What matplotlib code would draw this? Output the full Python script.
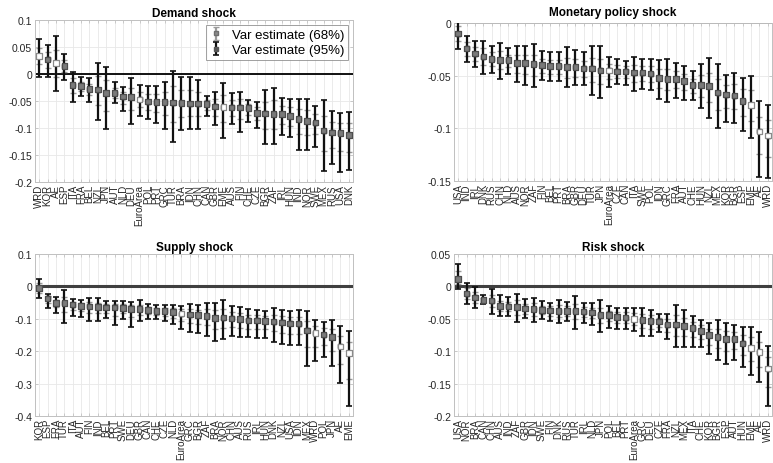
import matplotlib
matplotlib.use("Agg")
import matplotlib.pyplot as plt
import numpy as np

plt.rcParams['font.family'] = ['Liberation Sans', 'DejaVu Sans']
plt.rcParams['axes.unicode_minus'] = False

# aggregates get a hollow marker
aggregates = ['WRD', 'AE', 'EME', 'EuroArea']

# ---- Demand shock ----
demand_names = ['WRD', 'KOR', 'AE', 'ESP', 'ITA', 'FRA', 'BEL', 'NZL', 'JPN', 'AUT', 'NLD', 'DEU',
                'EuroArea', 'POL', 'PRT', 'GRC', 'TUR', 'BRA', 'IDN', 'CHN', 'CAN', 'GBR', 'EME',
                'AUS', 'FIN', 'CHE', 'CZE', 'BGR', 'ZAF', 'IRL', 'HUN', 'IND', 'NOR', 'SWE', 'MEX',
                'RUS', 'USA', 'DNK']
demand_mid = [0.033, 0.027, 0.020, 0.015, -0.020, -0.022, -0.028, -0.029, -0.035, -0.035, -0.042, -0.043,
              -0.047, -0.051, -0.052, -0.052, -0.053, -0.054, -0.055, -0.055, -0.056, -0.060, -0.061,
              -0.062, -0.062, -0.063, -0.072, -0.073, -0.074, -0.074, -0.078, -0.083, -0.087, -0.090,
              -0.105, -0.108, -0.109, -0.113]
demand_hi95 = [0.064, 0.054, 0.070, 0.037, 0.003, -0.006, -0.008, 0.021, 0.013, -0.014, -0.024, -0.007,
               -0.021, -0.023, -0.023, -0.014, 0.006, -0.005, -0.005, -0.012, -0.040, -0.033, -0.017,
               -0.035, -0.033, -0.048, -0.052, -0.029, -0.025, -0.045, -0.047, -0.046, -0.046, -0.059,
               -0.049, -0.069, -0.073, -0.070]
demand_lo95 = [-0.006, -0.006, -0.031, -0.012, -0.051, -0.041, -0.051, -0.086, -0.102, -0.054, -0.069, -0.092,
               -0.078, -0.083, -0.091, -0.101, -0.125, -0.104, -0.102, -0.101, -0.078, -0.094, -0.119,
               -0.093, -0.107, -0.088, -0.100, -0.130, -0.130, -0.113, -0.117, -0.140, -0.140, -0.136,
               -0.180, -0.167, -0.181, -0.178]
demand_hi68 = [0.048, 0.041, 0.045, 0.026, -0.008, -0.014, -0.018, -0.004, -0.011, -0.025, -0.033, -0.025,
               -0.034, -0.037, -0.037, -0.033, -0.023, -0.029, -0.030, -0.033, -0.048, -0.046, -0.039,
               -0.048, -0.047, -0.055, -0.062, -0.051, -0.049, -0.059, -0.062, -0.064, -0.066, -0.074,
               -0.077, -0.088, -0.091, -0.091]
demand_lo68 = [0.018, 0.011, -0.005, 0.004, -0.035, -0.031, -0.039, -0.057, -0.068, -0.044, -0.055, -0.067,
               -0.062, -0.067, -0.071, -0.076, -0.088, -0.079, -0.078, -0.078, -0.067, -0.077, -0.089,
               -0.077, -0.084, -0.075, -0.086, -0.101, -0.101, -0.093, -0.097, -0.111, -0.113, -0.112,
               -0.142, -0.137, -0.143, -0.144]

# ---- Monetary policy shock ----
money_names = ['USA', 'IND', 'IRL', 'DNK', 'RUS', 'CHN', 'NLD', 'AUS', 'NOR', 'ZAF', 'FIN', 'BEL', 'PRT',
               'BRA', 'GBR', 'DEU', 'TUR', 'JPN', 'EuroArea', 'CZE', 'CAN', 'ITA', 'SWE', 'POL', 'IDN',
               'GRC', 'FRA', 'AUT', 'CHE', 'HUN', 'NZL', 'MEX', 'KOR', 'BGR', 'ESP', 'EME', 'AE', 'WRD']
money_mid = [-0.010, -0.024, -0.029, -0.032, -0.034, -0.035, -0.035, -0.038, -0.038, -0.039, -0.040, -0.041,
             -0.041, -0.042, -0.042, -0.043, -0.043, -0.045, -0.045, -0.046, -0.046, -0.047, -0.047, -0.048,
             -0.052, -0.053, -0.053, -0.055, -0.059, -0.059, -0.060, -0.066, -0.068, -0.069, -0.074, -0.078,
             -0.103, -0.107]
money_hi95 = [0.003, -0.012, -0.017, -0.017, -0.022, -0.019, -0.024, -0.022, -0.022, -0.020, -0.027, -0.028,
              -0.028, -0.023, -0.026, -0.028, -0.022, -0.022, -0.032, -0.034, -0.036, -0.032, -0.034, -0.034,
              -0.035, -0.034, -0.038, -0.041, -0.046, -0.039, -0.033, -0.039, -0.049, -0.047, -0.052, -0.050,
              -0.074, -0.078]
money_lo95 = [-0.025, -0.037, -0.042, -0.048, -0.047, -0.053, -0.048, -0.056, -0.059, -0.061, -0.054, -0.055,
              -0.055, -0.061, -0.059, -0.059, -0.068, -0.071, -0.061, -0.058, -0.059, -0.065, -0.063, -0.064,
              -0.072, -0.075, -0.071, -0.073, -0.073, -0.081, -0.090, -0.100, -0.094, -0.095, -0.103, -0.109,
              -0.146, -0.147]
money_hi68 = [-0.003, -0.018, -0.023, -0.024, -0.028, -0.027, -0.030, -0.030, -0.030, -0.030, -0.034, -0.035,
              -0.035, -0.033, -0.034, -0.036, -0.033, -0.034, -0.039, -0.040, -0.041, -0.040, -0.041, -0.041,
              -0.044, -0.044, -0.046, -0.048, -0.053, -0.049, -0.047, -0.053, -0.059, -0.058, -0.063, -0.064,
              -0.089, -0.092]
money_lo68 = [-0.017, -0.031, -0.036, -0.040, -0.041, -0.044, -0.042, -0.047, -0.048, -0.050, -0.047, -0.048,
              -0.048, -0.052, -0.051, -0.051, -0.056, -0.058, -0.053, -0.052, -0.052, -0.056, -0.055, -0.056,
              -0.062, -0.064, -0.062, -0.064, -0.066, -0.070, -0.075, -0.083, -0.081, -0.082, -0.088, -0.093,
              -0.124, -0.127]

# ---- Supply shock ----
supply_names = ['KOR', 'ESP', 'FRA', 'TUR', 'ITA', 'AUT', 'FIN', 'IND', 'BEL', 'PRT', 'SWE', 'DEU', 'GBR',
                'CAN', 'CHE', 'CZE', 'NLD', 'EuroArea', 'GRC', 'BGR', 'ZAF', 'BRA', 'NOR', 'CHN', 'AUS',
                'RUS', 'IRL', 'HUN', 'DNK', 'NZL', 'USA', 'IDN', 'MEX', 'WRD', 'POL', 'JPN', 'AE', 'EME']
supply_mid = [-0.005, -0.037, -0.051, -0.051, -0.056, -0.060, -0.062, -0.064, -0.065, -0.065, -0.066, -0.069,
              -0.069, -0.072, -0.076, -0.076, -0.079, -0.084, -0.087, -0.089, -0.091, -0.097, -0.096, -0.099,
              -0.100, -0.105, -0.105, -0.107, -0.109, -0.111, -0.114, -0.115, -0.136, -0.144, -0.149, -0.157,
              -0.185, -0.205]
supply_hi95 = [0.023, -0.022, -0.034, -0.012, -0.039, -0.043, -0.037, -0.037, -0.045, -0.045, -0.044, -0.047,
               -0.043, -0.055, -0.058, -0.058, -0.058, -0.059, -0.054, -0.056, -0.052, -0.052, -0.042, -0.061,
               -0.064, -0.071, -0.073, -0.077, -0.066, -0.074, -0.077, -0.074, -0.077, -0.103, -0.110, -0.105,
               -0.123, -0.139]
supply_lo95 = [-0.037, -0.067, -0.081, -0.114, -0.091, -0.094, -0.106, -0.106, -0.099, -0.118, -0.101, -0.125,
               -0.107, -0.100, -0.100, -0.106, -0.115, -0.131, -0.142, -0.143, -0.152, -0.170, -0.163, -0.154,
               -0.157, -0.157, -0.159, -0.160, -0.171, -0.179, -0.180, -0.180, -0.246, -0.231, -0.218, -0.247,
               -0.299, -0.370]
supply_hi68 = [0.009, -0.029, -0.042, -0.032, -0.047, -0.051, -0.049, -0.050, -0.055, -0.055, -0.055, -0.058,
               -0.056, -0.063, -0.067, -0.067, -0.068, -0.071, -0.070, -0.072, -0.071, -0.074, -0.069, -0.080,
               -0.082, -0.088, -0.089, -0.092, -0.087, -0.092, -0.095, -0.094, -0.106, -0.123, -0.129, -0.131,
               -0.154, -0.172]
supply_lo68 = [-0.021, -0.050, -0.064, -0.080, -0.072, -0.075, -0.082, -0.083, -0.081, -0.090, -0.082, -0.095,
               -0.087, -0.085, -0.088, -0.090, -0.096, -0.106, -0.113, -0.115, -0.120, -0.132, -0.128, -0.125,
               -0.127, -0.130, -0.131, -0.133, -0.139, -0.144, -0.146, -0.147, -0.188, -0.186, -0.182, -0.200,
               -0.240, -0.285]

# ---- Risk shock ----
risk_names = ['USA', 'NOR', 'BRA', 'CAN', 'CHN', 'AUS', 'IND', 'ZAF', 'GBR', 'IDN', 'SWE', 'FIN', 'DNK',
              'RUS', 'TUR', 'IRL', 'NLD', 'JPN', 'POL', 'BEL', 'PRT', 'EuroArea', 'GRC', 'DEU', 'CZE', 'FRA',
              'NZL', 'MEX', 'ITA', 'CHE', 'KOR', 'BGR', 'ESP', 'AUT', 'HUN', 'EME', 'AE', 'WRD']
risk_mid = [0.011, -0.011, -0.017, -0.021, -0.022, -0.030, -0.031, -0.032, -0.034, -0.035, -0.036, -0.037,
            -0.038, -0.038, -0.038, -0.039, -0.040, -0.044, -0.044, -0.047, -0.048, -0.050, -0.052, -0.053,
            -0.054, -0.059, -0.059, -0.061, -0.064, -0.069, -0.075, -0.078, -0.081, -0.081, -0.088, -0.095,
            -0.101, -0.127]
risk_hi95 = [0.035, 0.006, -0.001, -0.014, -0.004, -0.014, -0.017, -0.011, -0.020, -0.018, -0.023, -0.025,
             -0.021, -0.024, -0.015, -0.025, -0.026, -0.021, -0.031, -0.033, -0.033, -0.033, -0.033, -0.036,
             -0.042, -0.043, -0.028, -0.036, -0.046, -0.052, -0.056, -0.052, -0.057, -0.060, -0.062, -0.062,
             -0.071, -0.092]
risk_lo95 = [-0.004, -0.027, -0.033, -0.027, -0.043, -0.045, -0.045, -0.055, -0.049, -0.055, -0.050, -0.053,
             -0.057, -0.053, -0.065, -0.056, -0.059, -0.070, -0.064, -0.066, -0.066, -0.069, -0.077, -0.077,
             -0.071, -0.081, -0.093, -0.093, -0.093, -0.094, -0.105, -0.113, -0.119, -0.114, -0.124, -0.136,
             -0.147, -0.184]
risk_hi68 = [0.023, -0.003, -0.009, -0.018, -0.013, -0.022, -0.024, -0.021, -0.027, -0.026, -0.030, -0.031,
             -0.029, -0.031, -0.027, -0.032, -0.033, -0.033, -0.038, -0.040, -0.040, -0.041, -0.042, -0.044,
             -0.048, -0.051, -0.044, -0.048, -0.055, -0.060, -0.065, -0.065, -0.069, -0.070, -0.075, -0.078,
             -0.086, -0.109]
risk_lo68 = [0.003, -0.019, -0.025, -0.024, -0.032, -0.038, -0.038, -0.044, -0.042, -0.045, -0.043, -0.045,
             -0.047, -0.046, -0.051, -0.047, -0.049, -0.057, -0.054, -0.056, -0.057, -0.059, -0.064, -0.065,
             -0.062, -0.070, -0.076, -0.077, -0.078, -0.081, -0.090, -0.095, -0.100, -0.097, -0.106, -0.115,
             -0.124, -0.155]

W, H = 773.0, 464.0
panels = [
    ("Demand shock", demand_names, demand_mid, demand_lo68, demand_hi68, demand_lo95, demand_hi95,
     (35, 21, 353, 183), (-0.2, 0.1), [0.1, 0.05, 0, -0.05, -0.1, -0.15, -0.2], 'k', 1.3, 3),
    ("Monetary policy shock", money_names, money_mid, money_lo68, money_hi68, money_lo95, money_hi95,
     (454, 24, 772, 182), (-0.15, 0.0), [0, -0.05, -0.1, -0.15], 'k', 1.3, 5.5),
    ("Supply shock", supply_names, supply_mid, supply_lo68, supply_hi68, supply_lo95, supply_hi95,
     (35, 255, 353, 417), (-0.4, 0.1), [0.1, 0, -0.1, -0.2, -0.3, -0.4], '#404040', 2.2, 3),
    ("Risk shock", risk_names, risk_mid, risk_lo68, risk_hi68, risk_lo95, risk_hi95,
     (454, 255, 772, 417), (-0.2, 0.05), [0.05, 0, -0.05, -0.1, -0.15, -0.2], '#404040', 2.2, 3),
]

fig = plt.figure(figsize=(7.73, 4.64), dpi=100)
tick_col = '#262626'

for k, (title, names, mid, lo68, hi68, lo95, hi95, box, ylim, yt, zcol, zlw, tpad) in enumerate(panels):
    x0, y0, x1, y1 = box
    ax = fig.add_axes([x0 / W, 1 - y1 / H, (x1 - x0) / W, (y1 - y0) / H])
    x = np.arange(1, len(names) + 1)
    mid = np.array(mid)
    ax.axhline(0, color=zcol, lw=zlw, zorder=1.5)
    e68 = ax.errorbar(x, mid, yerr=[mid - np.array(lo68), np.array(hi68) - mid], fmt='s',
                      color='#8a8a8a', ms=3.5, mec='#6e6e6e', ecolor='#9a9a9a', elinewidth=1.6,
                      capsize=2.2, capthick=1.0, zorder=2, label='Var estimate (68%)')
    e95 = ax.errorbar(x, mid, yerr=[mid - np.array(lo95), np.array(hi95) - mid], fmt='s',
                      color='#555555', ms=2.5, ecolor='#111111', elinewidth=1.6,
                      capsize=2.4, capthick=1.2, zorder=3, label='Var estimate (95%)')
    face = ['white' if n in aggregates else '#7a7a7a' for n in names]
    edge = ['#8a8a8a' if n in aggregates else '#4d4d4d' for n in names]
    ax.scatter(x, mid, s=16, marker='s', c=face, edgecolors=edge, linewidths=0.9, zorder=5)

    ax.set_xlim(0.5, len(names) + 0.5)
    ax.set_ylim(*ylim)
    ax.set_xticks(x)
    ax.set_xticklabels(names, rotation=90, fontsize=7, color=tick_col)
    ax.set_yticks(yt)
    ax.set_yticklabels([('%g' % v) if v != 0 else '0' for v in yt], fontsize=7.5, color=tick_col)
    ax.tick_params(axis='both', direction='in', length=2.5, width=0.5, color='#bbbbbb',
                   top=True, right=True, pad=2)
    ax.tick_params(axis='x', pad=1.5)
    ax.grid(True, color='#e8e8e8', lw=0.6)
    ax.set_axisbelow(True)
    for s in ax.spines.values():
        s.set_color('#c0c0c0')
        s.set_linewidth(0.7)
    ax.set_title(title, fontsize=8.5, fontweight='bold', pad=tpad)
    if k == 0:
        leg = ax.legend(handles=[e68, e95], loc='upper right', fontsize=9.5, frameon=True,
                        fancybox=False, edgecolor='#888888', borderaxespad=0.35,
                        handlelength=1.0, handletextpad=0.7, borderpad=0.3, labelspacing=0.25)
        leg.get_frame().set_linewidth(0.7)

fig.savefig('out.png', dpi=100)
